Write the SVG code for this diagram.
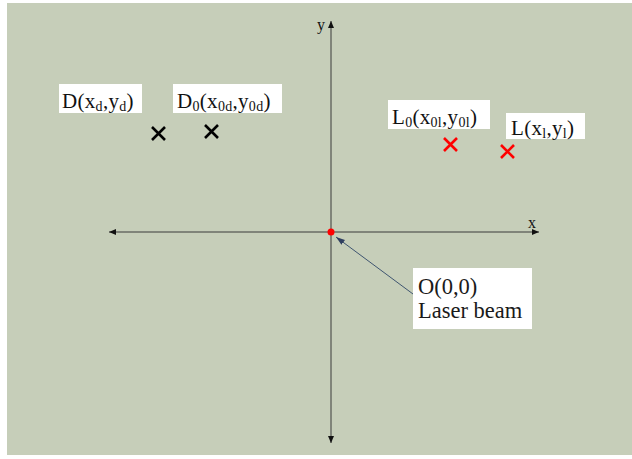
<svg xmlns="http://www.w3.org/2000/svg" width="632" height="459" viewBox="0 0 632 459">
<style>
.lbl{font-family:"Liberation Serif","Times New Roman",serif;font-size:21px;fill:#111;letter-spacing:0.3px}
.sub{font-size:14px}
.cal{font-family:"Liberation Serif","Times New Roman",serif;font-size:22.5px;fill:#1a1a1a}
.box{fill:#fff}
.ax{stroke:#3a3a3a;stroke-width:1;fill:none}
.xk{stroke:#000;stroke-width:2.6;stroke-linecap:butt}
.xr{stroke:#f00;stroke-width:2.6;stroke-linecap:butt}
</style>
<defs>
<marker id="ah" markerWidth="8" markerHeight="8" refX="7" refY="4" orient="auto" markerUnits="userSpaceOnUse">
<path d="M0,1 L7,4 L0,7 Z" fill="#111"/>
</marker>
<marker id="ab" markerWidth="10" markerHeight="8" refX="9" refY="4" orient="auto" markerUnits="userSpaceOnUse">
<path d="M0,1 L9,4 L0,7 Z" fill="#2F3F5F"/>
</marker>
</defs>
<rect width="632" height="459" fill="#fff"/>
<rect x="7" y="3" width="625" height="452" fill="#C6CEB9"/>
<g id="connectors">
<line class="ax" x1="331" y1="232" x2="109" y2="232" marker-end="url(#ah)"/>
<line class="ax" x1="331" y1="232" x2="539" y2="232" marker-end="url(#ah)"/>
<line class="ax" x1="331" y1="232" x2="331" y2="21" marker-end="url(#ah)"/>
<line class="ax" x1="331" y1="232" x2="331" y2="443" marker-end="url(#ah)"/>
<line x1="413" y1="294" x2="336" y2="237" stroke="#3F5570" stroke-width="1" marker-end="url(#ab)"/>
</g>
<g id="axis-labels">
<text class="lbl" x="317" y="30" style="font-size:16px">y</text>
<text class="lbl" x="528" y="228" style="font-size:16px">x</text>
</g>
<g id="origin">
<circle cx="331" cy="232" r="3.5" fill="#f00"/>
</g>
<g id="callout">
<rect class="box" x="413" y="268" width="119" height="61"/>
<text class="cal" x="418" y="294">O(0,0)</text>
<text class="cal" x="418" y="318">Laser beam</text>
</g>
<g id="D">
<rect class="box" x="59" y="84" width="83" height="29"/>
<text class="lbl" x="62" y="108">D(x<tspan class="sub" dy="3">d</tspan><tspan dy="-3">,y</tspan><tspan class="sub" dy="3">d</tspan><tspan dy="-3">)</tspan></text>
<path class="xk" d="M152,127 L165,140 M165,127 L152,140"/>
</g>
<g id="D0">
<rect class="box" x="173" y="84" width="109" height="29"/>
<text class="lbl" x="177" y="108">D<tspan class="sub" dy="3">0</tspan><tspan dy="-3">(x</tspan><tspan class="sub" dy="3">0d</tspan><tspan dy="-3">,y</tspan><tspan class="sub" dy="3">0d</tspan><tspan dy="-3">)</tspan></text>
<path class="xk" d="M205,125 L218,138 M218,125 L205,138"/>
</g>
<g id="L0">
<rect class="box" x="388" y="100" width="102" height="29"/>
<text class="lbl" x="392" y="124">L<tspan class="sub" dy="3">0</tspan><tspan dy="-3">(x</tspan><tspan class="sub" dy="3">0l</tspan><tspan dy="-3">,y</tspan><tspan class="sub" dy="3">0l</tspan><tspan dy="-3">)</tspan></text>
<path class="xr" d="M444,138 L457,151 M457,138 L444,151"/>
</g>
<g id="L">
<rect class="box" x="506" y="113" width="79" height="26"/>
<text class="lbl" x="511" y="135">L(x<tspan class="sub" dy="3">l</tspan><tspan dy="-3">,y</tspan><tspan class="sub" dy="3">l</tspan><tspan dy="-3">)</tspan></text>
<path class="xr" d="M501,145 L514,158 M514,145 L501,158"/>
</g>
</svg>
